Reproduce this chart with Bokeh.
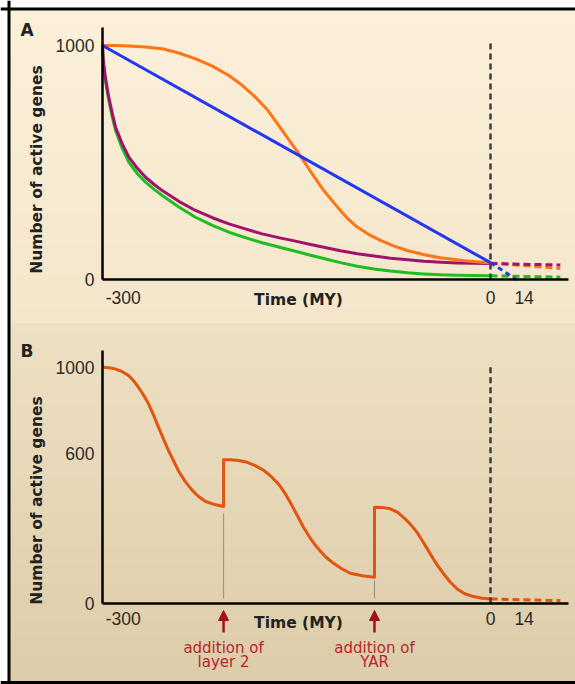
import math
from bokeh.plotting import figure
from bokeh.models import Range1d, LinearAxis, FixedTicker, Span, Label, Arrow, NormalHead
from bokeh.embed import file_html
from bokeh.resources import INLINE

# ---------------- data ----------------
# Panel A: number of active genes vs time (MY), four model curves
A_ORANGE_T = [-300, -290, -279.6, -267, -253.8, -241, -228, -215, -202.3, -192, -181.7, -172, -163.7,
              -154.6, -146.9, -138, -128.9, -122, -116, -110, -103.1, -94, -85, -75, -64.4, -52, -38.8, -20, 0]
A_ORANGE_G = [1000, 1000, 998, 994, 986, 968, 943, 912, 872, 830, 779, 722, 658,
              587, 527, 452, 380, 334, 295, 258, 224, 192, 167, 144, 124, 107, 93, 80, 71]

A_BLUE_T = [-300, 0]
A_BLUE_G = [1000, 72]

A_PURPLE_T = [-300, -299.5, -299, -298, -297, -296, -295.1, -292.5, -289.9, -285, -279.6, -273, -266.7, -260,
              -253.8, -241, -228.1, -215, -202.3, -189, -176.5, -163, -150.8, -140, -128.9, -116, -103,
              -90, -77.3, -64, -51.5, -38, -25.8, -13, 0]
A_PURPLE_G = [1000, 948, 919, 874, 838, 806, 779, 711, 651, 583, 523, 475, 437, 406,
              380, 334, 295, 264, 238, 215, 195, 178, 164, 151, 138, 123, 110,
              100, 91, 84, 78, 74, 71, 69, 68]

A_GREEN_T = [-300, -299.5, -299, -298, -297, -296, -295.1, -292.5, -289.9, -285, -279.6, -273, -266.7, -260,
             -253.8, -241, -228.1, -215, -202.3, -189, -176.5, -163, -150.8, -140, -128.9, -116, -103,
             -90, -77.3, -64, -51.5, -38, -25.8, -13, 0]
A_GREEN_G = [1000, 940, 909, 863, 825, 792, 765, 696, 637, 564, 501, 452, 416, 385,
             359, 310, 266, 231, 202, 178, 157, 138, 121, 105, 90, 72, 57,
             45, 36, 29, 24, 20, 18, 17, 16]

# future (dashed) projections, panel A
FUTURE_T = [0, 54]
A_ORANGE_FUT = [71, 47]
A_PURPLE_FUT = [68, 62]
A_GREEN_FUT = [16, 10]
A_BLUE_FUT_T = [0, 20]
A_BLUE_FUT = [72, 0]

# Panel B: single curve with two gene-addition events
B_T = [-300, -295, -290.2, -285, -279.9, -276, -272.2, -268.3, -264.4, -260.5, -256.7, -252.8, -249,
       -245, -241.2, -236, -230.9, -226, -220.6, -214, -206.4,
       -206.4, -201, -194.8, -188, -181.9, -175, -169, -163.5, -158.7, -154.9, -149.7, -144.6, -139.4,
       -134.2, -128, -121.4, -115, -108.5, -99, -89.7,
       -89.7, -84, -77.5, -72, -67.3, -62, -56.9, -51.7, -46.6, -41.5, -36.3, -31, -26, -20, -13.1, -6.5, 0]
B_G = [1000, 998, 993, 982, 965, 943, 915, 882, 845, 797, 746, 695, 647,
       603, 560, 515, 480, 453, 432, 419, 410,
       608, 608, 605, 597, 583, 562, 534, 502, 464, 428, 375, 322, 276,
       237, 199, 169, 146, 127, 116, 110,
       407, 406, 400, 386, 364, 335, 301, 256, 209, 164, 125, 89, 61, 40, 28, 21, 18]
B_FUT = [18, 11]

EVENT_T = [-206.4, -89.7]
EVENT_MARK_BOTTOM = [20, 20]
EVENT_MARK_TOP = [381, 96]
EVENT_TEXT_1 = ["addition of", "addition of"]
EVENT_TEXT_2 = ["layer 2", "YAR"]

PRESENT_T = [0]
PRESENT_BOTTOM = [0]
PRESENT_TOP = [1010]

A_Y_TICKS = [0, 1000]
A_Y_LABELS = ["0", "1000"]
B_Y_TICKS = [0, 634, 1000]
B_Y_LABELS = ["0", "600", "1000"]
X_TICKS = [-284, 0, 26]
X_LABELS = ["-300", "0", "14"]

# ---------------- layout helpers (page pixels -> data) ----------------
W, H = 575, 684
X0_PX, X_SCALE = 102.0, 388.0 / 300.0
A0_PX, A_SCALE = 279.0, 0.234
B0_PX, B_SCALE = 602.7, 0.236

def xd(px):
    return (px - X0_PX) / X_SCALE - 300

def ya(py):
    return (A0_PX - py) / A_SCALE

def yb(py):
    return (B0_PX - py) / B_SCALE

p = figure(width=W, height=H, output_backend="svg", toolbar_location=None,
           x_axis_location=None, y_axis_location=None, min_border=0,
           x_range=Range1d(xd(0), xd(W)), y_range=Range1d(ya(H), ya(0)))
p.extra_y_ranges = {"B": Range1d(yb(H), yb(0))}
p.xgrid.visible = False
p.ygrid.visible = False
p.outline_line_color = None
p.background_fill_color = "white"
p.border_fill_color = "white"

# ---------------- gradient background ----------------
def hex2rgb(h):
    h = h.lstrip("#")
    return [int(h[i:i + 2], 16) for i in (0, 2, 4)]

def mix(c1, c2, t):
    a, b = hex2rgb(c1), hex2rgb(c2)
    return "#%02x%02x%02x" % tuple(round(a[i] + (b[i] - a[i]) * t) for i in range(3))

bl, br, bt, bb, bc = [], [], [], [], []
for (p0, p1, c0, c1) in [(8.5, 323.3, "#fcf0da", "#f3e6cb"), (323.3, 682, "#eee0c3", "#ddcca9")]:
    n = 40
    for i in range(n):
        s0 = p0 + (p1 - p0) * i / n
        s1 = p0 + (p1 - p0) * (i + 1) / n
        bl.append(xd(8.5)); br.append(xd(W))
        bt.append(ya(s0)); bb.append(ya(s1))
        bc.append(mix(c0, c1, (i + 0.5) / n))
p.quad(left=bl, right=br, top=bt, bottom=bb, fill_color=bc, line_color=bc, line_width=1)

# ---------------- axes ----------------
def style_axis(ax, standoff):
    ax.major_tick_line_color = None
    ax.minor_tick_line_color = None
    ax.major_tick_in = 0
    ax.major_tick_out = 0
    ax.axis_line_color = "black"
    ax.axis_line_width = 2.5
    ax.major_label_text_font = "Liberation Sans"
    ax.major_label_text_font_size = "17.5px"
    ax.major_label_text_color = "#2b2b2b"
    ax.major_label_standoff = standoff

ay_a = LinearAxis(fixed_location=-300, bounds=(0, ya(26.7)), ticker=FixedTicker(ticks=A_Y_TICKS),
                  major_label_overrides=dict(zip(A_Y_TICKS, A_Y_LABELS)))
style_axis(ay_a, 8)
p.add_layout(ay_a, "left")

ax_a = LinearAxis(fixed_location=0, bounds=(-300, xd(568)), ticker=FixedTicker(ticks=X_TICKS),
                  major_label_overrides=dict(zip(X_TICKS, X_LABELS)))
style_axis(ax_a, 11)
p.add_layout(ax_a, "below")

ay_b = LinearAxis(y_range_name="B", fixed_location=-300, bounds=(0, yb(350)), ticker=FixedTicker(ticks=B_Y_TICKS),
                  major_label_overrides=dict(zip(B_Y_TICKS, B_Y_LABELS)))
style_axis(ay_b, 8)
p.add_layout(ay_b, "left")

ax_b = LinearAxis(y_range_name="B", fixed_location=0, bounds=(-300, xd(568)), ticker=FixedTicker(ticks=X_TICKS),
                  major_label_overrides=dict(zip(X_TICKS, X_LABELS)))
style_axis(ax_b, 9)
p.add_layout(ax_b, "below")

# ---------------- curves, panel A ----------------
ORANGE, BLUE, PURPLE, GREEN = "#ff7415", "#2336f2", "#a0126c", "#1fbd22"
LW = 3
p.line(A_GREEN_T, A_GREEN_G, line_color=GREEN, line_width=LW, line_join="round")
p.line(A_PURPLE_T, A_PURPLE_G, line_color=PURPLE, line_width=LW, line_join="round")
p.line(A_ORANGE_T, A_ORANGE_G, line_color=ORANGE, line_width=LW, line_join="round")
p.line(A_BLUE_T, A_BLUE_G, line_color=BLUE, line_width=LW)
DASH = "7 4"
p.line(FUTURE_T, A_GREEN_FUT, line_color=GREEN, line_width=LW, line_dash=DASH)
p.line(FUTURE_T, A_ORANGE_FUT, line_color=ORANGE, line_width=LW, line_dash=DASH)
p.line(FUTURE_T, A_PURPLE_FUT, line_color=PURPLE, line_width=LW, line_dash=DASH)
p.line(A_BLUE_FUT_T, A_BLUE_FUT, line_color=BLUE, line_width=LW, line_dash="5 4")
p.segment(x0=PRESENT_T, y0=PRESENT_BOTTOM, x1=PRESENT_T, y1=PRESENT_TOP,
          line_color="#3c3c3c", line_width=2.5, line_dash="6 4")

# ---------------- curve, panel B ----------------
BCOL = "#e2540f"
p.segment(x0=EVENT_T, y0=EVENT_MARK_BOTTOM, x1=EVENT_T, y1=EVENT_MARK_TOP, y_range_name="B",
          line_color="#a39480", line_width=1.2)
p.line(B_T, B_G, line_color=BCOL, line_width=LW, y_range_name="B", line_join="round")
p.line(FUTURE_T, B_FUT, line_color=BCOL, line_width=LW, line_dash=DASH, y_range_name="B")
p.segment(x0=PRESENT_T, y0=PRESENT_BOTTOM, x1=PRESENT_T, y1=PRESENT_TOP, y_range_name="B",
          line_color="#3c3c3c", line_width=2.5, line_dash="6 4")

# ---------------- text ----------------
BOLD = dict(text_font="DejaVu Sans", text_font_style="bold", text_color="#222222")
for letter, base in (("A", 29.5), ("B", 350.5)):
    p.add_layout(Label(x=xd(20), y=ya(base), text=letter, text_font_size="17px",
                       text_align="left", text_baseline="alphabetic", **BOLD))
for base in (299, 622):
    p.add_layout(Label(x=xd(298), y=ya(base), text="Time (MY)", text_font_size="15.5px",
                       text_align="center", text_baseline="alphabetic", **BOLD))
for cy in (169, 500):
    p.add_layout(Label(x=xd(36.7), y=ya(cy), text="Number of active genes", text_font_size="15.5px",
                       angle=math.pi / 2, text_align="center", text_baseline="middle", **BOLD))

RED_TXT = "#b8262e"
RED_ARROW = "#a3101c"
for t, l1, l2 in zip(EVENT_T, EVENT_TEXT_1, EVENT_TEXT_2):
    p.add_layout(Arrow(x_start=t, y_start=ya(632), x_end=t, y_end=ya(610),
                       end=NormalHead(size=10, fill_color=RED_ARROW, line_color=RED_ARROW),
                       line_color=RED_ARROW, line_width=2.5))
    p.add_layout(Label(x=t, y=ya(647), text=l1, text_font="DejaVu Sans", text_font_size="15px",
                       text_color=RED_TXT, text_align="center", text_baseline="alphabetic"))
    p.add_layout(Label(x=t, y=ya(661), text=l2, text_font="DejaVu Sans", text_font_size="15px",
                       text_color=RED_TXT, text_align="center", text_baseline="alphabetic"))

# ---------------- outer frame ----------------
p.add_layout(Span(location=xd(8.5), dimension="height", line_color="black", line_width=3))
p.add_layout(Span(location=ya(8.5), dimension="width", line_color="black", line_width=3))
p.add_layout(Span(location=ya(682), dimension="width", line_color="black", line_width=3))

open("out.html", "w").write(file_html(p, INLINE))
